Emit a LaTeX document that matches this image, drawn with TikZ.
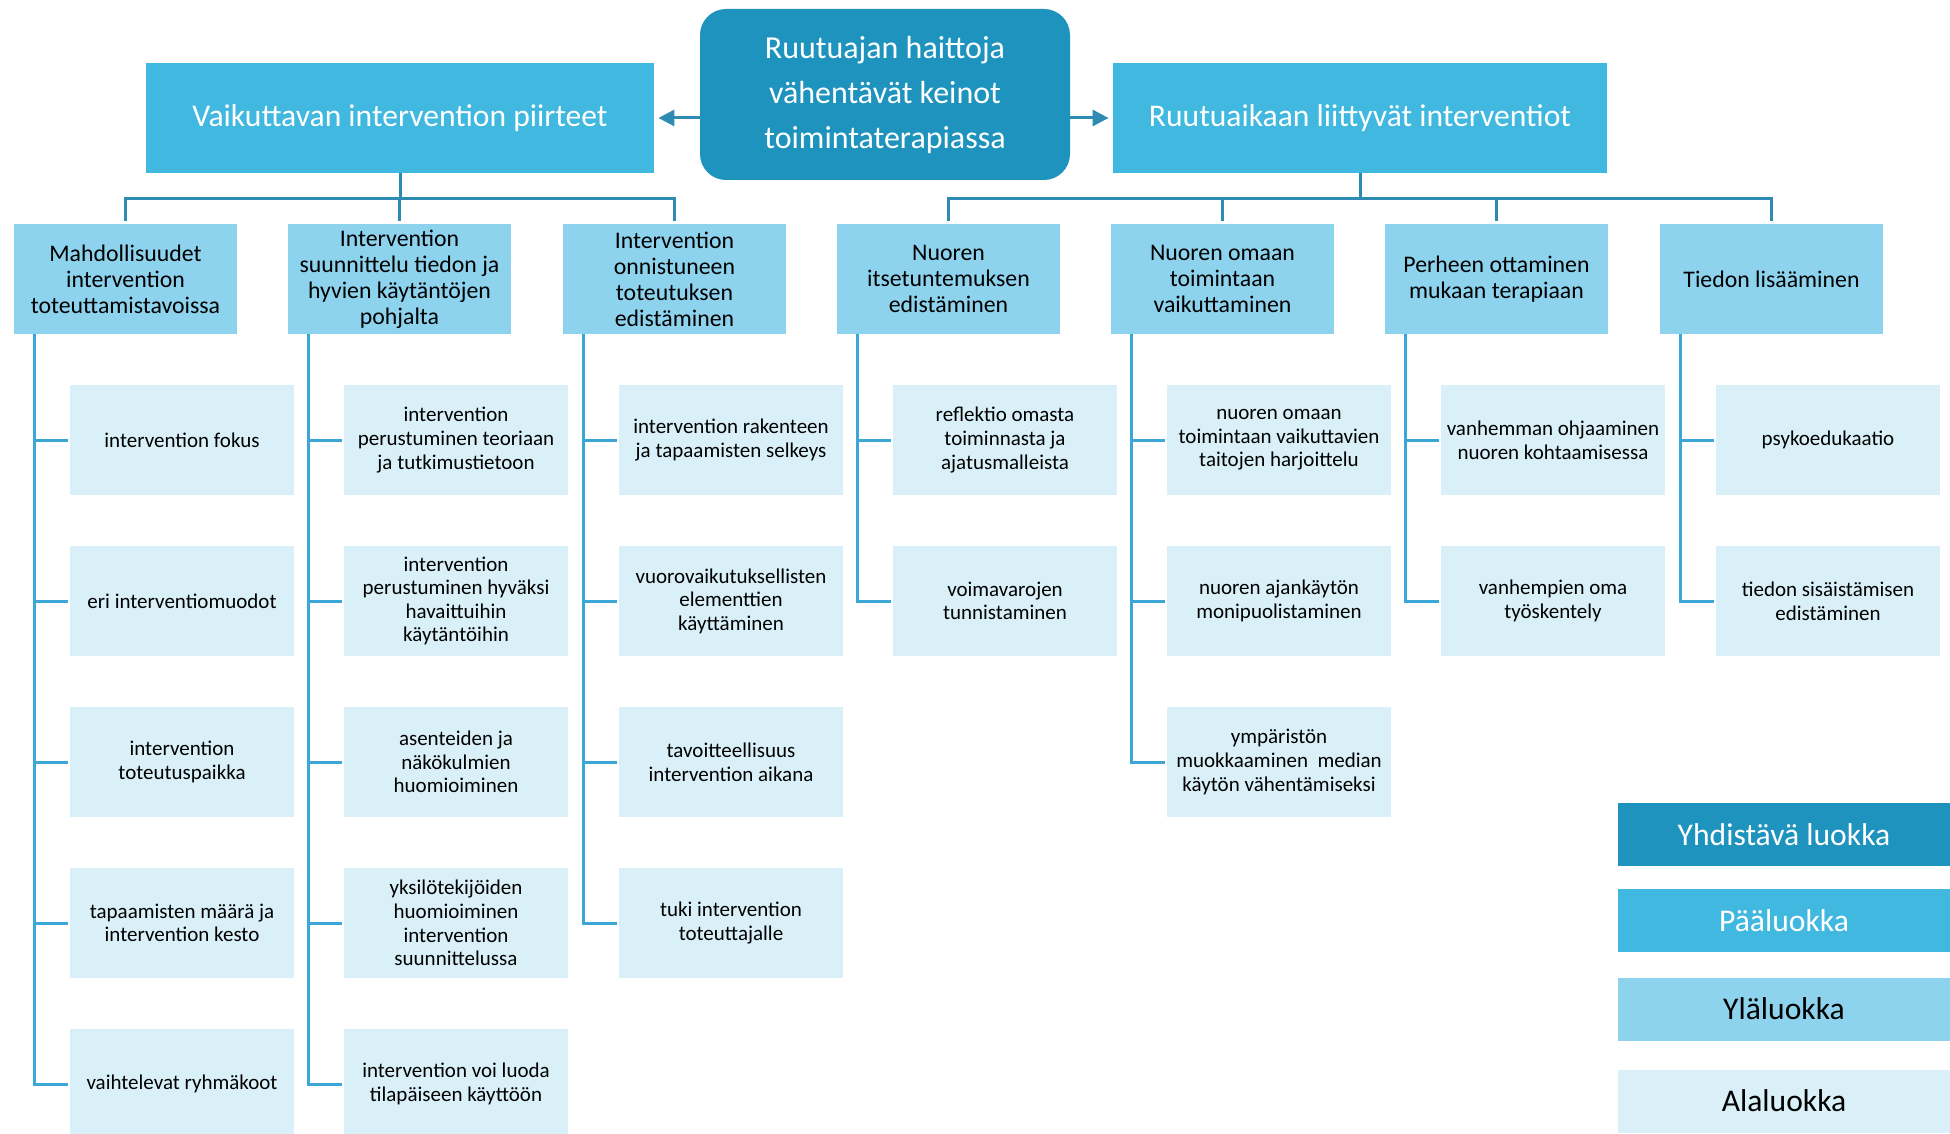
\documentclass[tikz,border=0pt]{standalone}
\usepackage{fontspec}
\setmainfont{Carlito}
\usetikzlibrary{arrows.meta}
\definecolor{yhdvari}{HTML}{1E93BE}
\definecolor{paavari}{HTML}{40B8E0}
\definecolor{ylavari}{HTML}{8DD3EE}
\definecolor{alavari}{HTML}{D9F0F8}
\definecolor{viivavari}{HTML}{2E8CB4}
\definecolor{haaravari}{HTML}{3BA7D6}
\tikzset{
  laatikko/.style={inner sep=0pt,align=center},
  yhd/.style={laatikko,fill=yhdvari,text=white,rounded corners=13pt,minimum width=185pt,minimum height=85.5pt,font=\fontsize{16}{22.5}\selectfont},
  paaluokka/.style={laatikko,fill=paavari,text=white,minimum width=254pt,minimum height=55pt,font=\fontsize{15.8}{19}\selectfont},
  ylaluokka/.style={laatikko,fill=ylavari,minimum width=111.5pt,minimum height=55pt,font=\fontsize{11.9}{13}\selectfont},
  alaluokka/.style={laatikko,fill=alavari,minimum width=112pt,minimum height=55pt,font=\fontsize{10.5}{11.8}\selectfont},
  selite/.style={laatikko,minimum width=166pt,minimum height=31.5pt,font=\fontsize{15.8}{19}\selectfont},
  runko/.style={draw=viivavari,line width=1.5pt},
  haara/.style={draw=haaravari,line width=1.5pt,shorten >=1pt},
  nuoli/.style={runko,shorten >=2pt,-{Triangle[length=8pt,width=8pt]}},
}
\begin{document}
\begin{tikzpicture}[x=0.5pt,y=-0.5pt]
    \useasboundingbox[fill=white] (0,0) rectangle (1950,1134);
    % yhdistävä luokka ja pääluokat
    \node[yhd] (keino) at (885,94.5) {Ruutuajan haittoja\\vähentävät keinot\\toimintaterapiassa};
    \node[paaluokka] (p1) at (400,118) {Vaikuttavan intervention piirteet};
    \node[paaluokka,minimum width=247pt] (p2) at (1360,118) {Ruutuaikaan liittyvät interventiot};
    \draw[nuoli] (keino.west |- p1.east) -- (p1.east);
    \draw[nuoli] (keino.east |- p2.west) -- (p2.west);

    % yläluokat
    \node[ylaluokka] (y1) at (125.5,279) {Mahdollisuudet\\intervention\\toteuttamistavoissa};
    \node[ylaluokka] (y2) at (399.5,279) {Intervention\\suunnittelu tiedon ja\\hyvien käytäntöjen\\pohjalta};
    \node[ylaluokka] (y3) at (674.5,279) {Intervention\\onnistuneen\\toteutuksen\\edistäminen};
    \node[ylaluokka] (y4) at (948.5,279) {Nuoren\\itsetuntemuksen\\edistäminen};
    \node[ylaluokka] (y5) at (1222.5,279) {Nuoren omaan\\toimintaan\\vaikuttaminen};
    \node[ylaluokka] (y6) at (1496.5,279) {Perheen ottaminen\\mukaan terapiaan};
    \node[ylaluokka] (y7) at (1771.5,279) {Tiedon lisääminen};
    \foreach \i in {1,2,3}
        \draw[runko,shorten >=1.5pt] (p1.south) -- ++(0,25) -| (y\i.north);
    \foreach \i in {4,...,7}
        \draw[runko,shorten >=1.5pt] (p2.south) -- ++(0,25) -| (y\i.north);

    % alaluokat
    \node[alaluokka] (a11) at (182,440) {intervention fokus};
    \node[alaluokka] (a12) at (182,601) {eri interventiomuodot};
    \node[alaluokka] (a13) at (182,762) {intervention\\toteutuspaikka};
    \node[alaluokka] (a14) at (182,923) {tapaamisten määrä ja\\intervention kesto};
    \node[alaluokka] (a15) at (182,1084) {vaihtelevat ryhmäkoot};

    \node[alaluokka] (a21) at (456,440) {intervention\\perustuminen teoriaan\\ja tutkimustietoon};
    \node[alaluokka] (a22) at (456,601) {intervention\\perustuminen hyväksi\\havaittuihin\\käytäntöihin};
    \node[alaluokka] (a23) at (456,762) {asenteiden ja\\näkökulmien\\huomioiminen};
    \node[alaluokka] (a24) at (456,923) {yksilötekijöiden\\huomioiminen\\intervention\\suunnittelussa};
    \node[alaluokka] (a25) at (456,1084) {intervention voi luoda\\tilapäiseen käyttöön};

    \node[alaluokka] (a31) at (731,440) {intervention rakenteen\\ja tapaamisten selkeys};
    \node[alaluokka] (a32) at (731,601) {vuorovaikutuksellisten\\elementtien\\käyttäminen};
    \node[alaluokka] (a33) at (731,762) {tavoitteellisuus\\intervention aikana};
    \node[alaluokka] (a34) at (731,923) {tuki intervention\\toteuttajalle};

    \node[alaluokka] (a41) at (1005,440) {reflektio omasta\\toiminnasta ja\\ajatusmalleista};
    \node[alaluokka] (a42) at (1005,601) {voimavarojen\\tunnistaminen};

    \node[alaluokka] (a51) at (1279,440) {nuoren omaan\\toimintaan vaikuttavien\\taitojen harjoittelu};
    \node[alaluokka] (a52) at (1279,601) {nuoren ajankäytön\\monipuolistaminen};
    \node[alaluokka] (a53) at (1279,762) {ympäristön\\muokkaaminen\ \ median\\käytön vähentämiseksi};

    \node[alaluokka] (a61) at (1553,440) {vanhemman ohjaaminen\\nuoren kohtaamisessa};
    \node[alaluokka] (a62) at (1553,601) {vanhempien oma\\työskentely};

    \node[alaluokka] (a71) at (1828,440) {psykoedukaatio};
    \node[alaluokka] (a72) at (1828,601) {tiedon sisäistämisen\\edistäminen};

    % haarat yläluokasta alaluokkiin
    \foreach \i/\n in {1/5,2/5,3/4,4/2,5/3,6/2,7/2} {
        \coordinate (s\i) at ([xshift=10.5pt]y\i.south west);
        \foreach \k in {1,...,\n}
            \draw[haara] (s\i) |- (a\i\k.west);
    }

    % selite
    \node[selite,fill=yhdvari,text=white] (l1) at (1784,834.5) {Yhdistävä luokka};
    \node[selite,fill=paavari,text=white] (l2) at (1784,920.5) {Pääluokka};
    \node[selite,fill=ylavari] (l3) at (1784,1009) {Yläluokka};
    \node[selite,fill=alavari] (l4) at (1784,1101) {Alaluokka};
\end{tikzpicture}
\end{document}
